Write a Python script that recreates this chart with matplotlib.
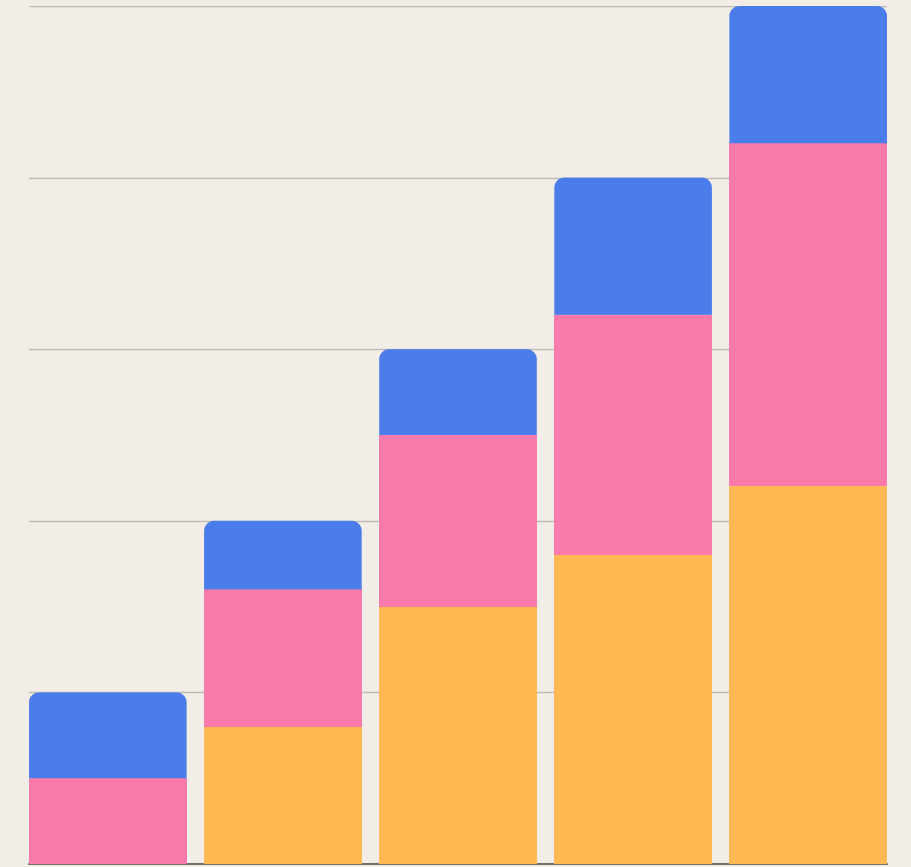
import matplotlib
matplotlib.use("Agg")
import matplotlib.pyplot as plt
from matplotlib.path import Path
from matplotlib.patches import PathPatch

categories = ["A", "B", "C", "D", "E"]
orange_vals = [0, 8, 15, 18, 22]
pink_vals = [5, 8, 10, 14, 20]
blue_vals = [5, 4, 5, 8, 8]

c_orange = "#ffb852"
c_pink = "#fa7aab"
c_blue = "#4a7dea"
bg = "#f2ede7"

W, H = 911, 867
fig = plt.figure(figsize=(W / 100, H / 100), dpi=100, facecolor=bg)
ax = fig.add_axes([29 / W, 3 / H, (887 - 29) / W, (864 - 6) / H])
ax.set_facecolor(bg)

x = list(range(len(categories)))
bw = 0.9
ax.set_xlim(-bw / 2, len(categories) - 1 + bw / 2)
ax.set_ylim(0, 50)

ax.bar(x, orange_vals, width=bw, color=c_orange, zorder=3, linewidth=0)
bottoms2 = list(orange_vals)
ax.bar(x, pink_vals, width=bw, bottom=bottoms2, color=c_pink, zorder=3, linewidth=0)
bottoms3 = [o + p for o, p in zip(orange_vals, pink_vals)]
tops = ax.bar(x, blue_vals, width=bw, bottom=bottoms3, color=c_blue, zorder=3, linewidth=0)

# replace top segments with rounded-top versions
fig.canvas.draw()
px_x = ax.transData.transform((1, 0))[0] - ax.transData.transform((0, 0))[0]
px_y = ax.transData.transform((0, 1))[1] - ax.transData.transform((0, 0))[1]
r_px = 10
rx, ry = r_px / px_x, r_px / px_y
k = 0.5523
for rect in tops:
    x0, y0 = rect.get_x(), rect.get_y()
    x1, y1 = x0 + rect.get_width(), y0 + rect.get_height()
    verts = [
        (x0, y0), (x0, y1 - ry),
        (x0, y1 - ry + k * ry), (x0 + rx - k * rx, y1), (x0 + rx, y1),
        (x1 - rx, y1),
        (x1 - rx + k * rx, y1), (x1, y1 - ry + k * ry), (x1, y1 - ry),
        (x1, y0), (x0, y0),
    ]
    codes = [Path.MOVETO, Path.LINETO,
             Path.CURVE4, Path.CURVE4, Path.CURVE4,
             Path.LINETO,
             Path.CURVE4, Path.CURVE4, Path.CURVE4,
             Path.LINETO, Path.CLOSEPOLY]
    rect.set_visible(False)
    ax.add_patch(PathPatch(Path(verts, codes), facecolor=c_blue, edgecolor="none", zorder=3))

ax.set_yticks([10, 20, 30, 40, 50])
ax.yaxis.grid(True, color="#bdb9b4", linewidth=1.0, zorder=0)
ax.set_axisbelow(True)
ax.tick_params(left=False, bottom=False, labelleft=False, labelbottom=False)
for s in ["top", "right", "left"]:
    ax.spines[s].set_visible(False)
ax.spines["bottom"].set_color("#555555")
ax.spines["bottom"].set_linewidth(1.2)
ax.spines["bottom"].set_zorder(1)

fig.savefig("out.png", dpi=100, facecolor=bg)
